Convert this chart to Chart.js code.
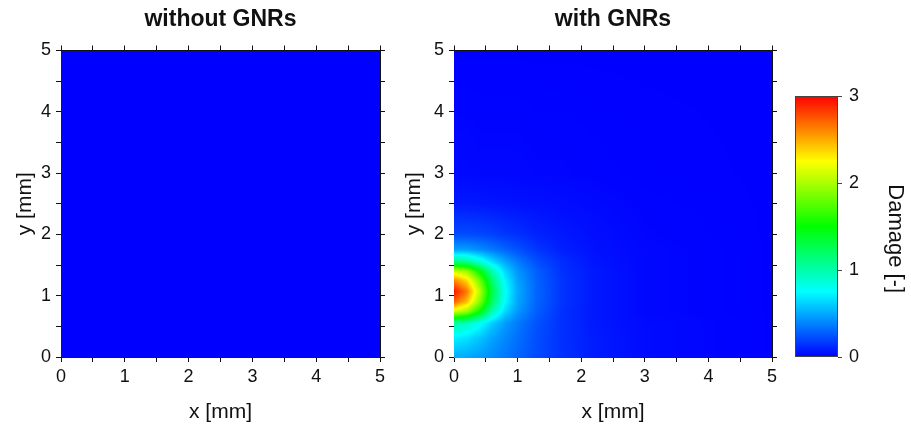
<!DOCTYPE html>
<html>
<head>
<meta charset="utf-8">
<script src="https://cdn.jsdelivr.net/npm/chart.js@4.4.1/dist/chart.umd.min.js"></script>
<style>
  html, body { margin: 0; padding: 0; background: #fff; }
  #wrap { position: relative; width: 911px; height: 426px; overflow: hidden; }
  .panel { position: absolute; top: 0; height: 426px; }
</style>
</head>
<body>
<div id="wrap">
  <div class="panel" style="left:0;width:441px"><canvas id="leftChart"></canvas></div>
  <div class="panel" style="left:392px;width:442px"><canvas id="rightChart"></canvas></div>
  <div class="panel" style="left:780px;width:131px"><canvas id="barChart"></canvas></div>
</div>
<script>
// axis ticks (mm) and colour bar ticks
const axisTicks = [0, 1, 2, 3, 4, 5];
const barTicks = [0, 1, 2, 3];

// colour map of the damage scale
const colorStops = [0, 0.75, 1.5, 2.25, 3];
const stopColors = [[0, 0, 255], [0, 255, 255], [0, 255, 0], [255, 255, 0], [255, 0, 0]];

// without GNRs: damage stays at zero everywhere
const gridX0 = [0, 5];
const gridY0 = [0, 5];
const damageWithoutGNRs = [
  [0, 0],
  [0, 0],
];

// with GNRs: damage, one row per gridY value
const gridX = [0, 0.2, 0.4, 0.6, 0.8, 1.0, 1.3, 1.7, 2.2, 3.0, 5.0];
const gridY = [0, 0.3, 0.55, 0.75, 0.9, 1.07, 1.25, 1.4, 1.55, 1.75, 2.0, 2.5, 3.0, 5.0];
const damageWithGNRs = [
  [0.52, 0.50, 0.46, 0.41, 0.36, 0.30, 0.22, 0.14, 0.08, 0.03, 0],
  [0.70, 0.66, 0.58, 0.48, 0.40, 0.33, 0.23, 0.14, 0.08, 0.03, 0],
  [1.00, 0.93, 0.78, 0.60, 0.46, 0.36, 0.24, 0.14, 0.07, 0.03, 0],
  [2.15, 1.98, 1.55, 0.99, 0.65, 0.45, 0.28, 0.14, 0.07, 0.02, 0],
  [2.72, 2.44, 1.91, 1.22, 0.75, 0.49, 0.29, 0.15, 0.07, 0.02, 0],
  [2.95, 2.65, 2.05, 1.30, 0.78, 0.50, 0.30, 0.15, 0.07, 0.02, 0],
  [2.60, 2.36, 1.85, 1.18, 0.73, 0.48, 0.29, 0.15, 0.07, 0.02, 0],
  [2.10, 1.95, 1.50, 0.98, 0.64, 0.44, 0.28, 0.14, 0.07, 0.02, 0],
  [1.15, 1.08, 0.88, 0.66, 0.50, 0.37, 0.23, 0.13, 0.06, 0.02, 0],
  [0.48, 0.47, 0.42, 0.36, 0.30, 0.24, 0.16, 0.09, 0.05, 0.02, 0],
  [0.22, 0.22, 0.21, 0.19, 0.16, 0.14, 0.10, 0.07, 0.04, 0.015, 0],
  [0.07, 0.07, 0.065, 0.06, 0.055, 0.05, 0.045, 0.035, 0.025, 0.01, 0],
  [0.025, 0.025, 0.02, 0.02, 0.02, 0.02, 0.015, 0.015, 0.01, 0.005, 0],
  [0, 0, 0, 0, 0, 0, 0, 0, 0, 0, 0],
];

const FONT = "'Liberation Sans', Arial, sans-serif";
const INK = "#111";

function colorFor(v) {
  const t = Math.max(colorStops[0], Math.min(colorStops[colorStops.length - 1], v));
  let k = 0;
  while (k < colorStops.length - 2 && t > colorStops[k + 1]) k++;
  const f = (t - colorStops[k]) / (colorStops[k + 1] - colorStops[k]);
  const a = stopColors[k], b = stopColors[k + 1];
  return [0, 1, 2].map((c) => Math.round(a[c] + (b[c] - a[c]) * f));
}

function findCell(arr, v) {
  let k = 0;
  while (k < arr.length - 2 && v > arr[k + 1]) k++;
  return k;
}

function sampleGrid(xs, ys, z, x, y) {
  const i = findCell(xs, x);
  const j = findCell(ys, y);
  const tx = Math.max(0, Math.min(1, (x - xs[i]) / (xs[i + 1] - xs[i])));
  const ty = Math.max(0, Math.min(1, (y - ys[j]) / (ys[j + 1] - ys[j])));
  const lo = z[j][i] * (1 - tx) + z[j][i + 1] * tx;
  const hi = z[j + 1][i] * (1 - tx) + z[j + 1][i + 1] * tx;
  return lo * (1 - ty) + hi * ty;
}

// paints the damage field into the chart area, pixel by pixel through the scales
const makeHeatmap = (xs, ys, z) => ({
  id: "heatmap",
  beforeDatasetsDraw(chart) {
    const { ctx, chartArea: area, scales } = chart;
    const w = Math.round(area.right - area.left);
    const h = Math.round(area.bottom - area.top);
    const off = document.createElement("canvas");
    off.width = w;
    off.height = h;
    const octx = off.getContext("2d");
    const img = octx.createImageData(w, h);
    for (let j = 0; j < h; j++) {
      const yv = scales.y.getValueForPixel(area.top + j + 0.5);
      for (let i = 0; i < w; i++) {
        const xv = scales.x.getValueForPixel(area.left + i + 0.5);
        const c = colorFor(sampleGrid(xs, ys, z, xv, yv));
        const p = (j * w + i) * 4;
        img.data[p] = c[0];
        img.data[p + 1] = c[1];
        img.data[p + 2] = c[2];
        img.data[p + 3] = 255;
      }
    }
    octx.putImageData(img, 0, 0);
    ctx.drawImage(off, area.left, area.top);
  },
});

const colorBarPlugin = {
  id: "colorBar",
  beforeDatasetsDraw(chart) {
    const { ctx, chartArea: area, scales } = chart;
    for (let py = Math.floor(area.top); py < area.bottom; py++) {
      const c = colorFor(scales.y.getValueForPixel(py + 0.5));
      ctx.fillStyle = `rgb(${c[0]},${c[1]},${c[2]})`;
      ctx.fillRect(area.left, py, area.right - area.left, 1);
    }
    ctx.strokeStyle = "#444";
    ctx.lineWidth = 1;
    ctx.strokeRect(area.left + 0.5, area.top + 0.5, area.right - area.left - 1, area.bottom - area.top - 1);
  },
};

const tickGrid = {
  drawOnChartArea: false,
  drawTicks: true,
  tickLength: 5,
  tickColor: INK,
  tickWidth: 1,
};

function panelScales(leftWidth, rightWidth, yTitlePad) {
  const majorOnly = (v) => (axisTicks.includes(v) ? v : "");
  return {
    x: {
      type: "linear",
      position: "bottom",
      min: 0,
      max: 5,
      grid: tickGrid,
      border: { color: INK, width: 1 },
      ticks: { stepSize: 0.5, autoSkip: false, maxRotation: 0, padding: 4, color: INK, font: { family: FONT, size: 18 }, callback: majorOnly },
      title: { display: true, text: "x [mm]", color: INK, font: { family: FONT, size: 21 }, padding: { top: 0, bottom: 1.4 } },
      afterFit: (s) => { s.height = 69; },
    },
    x2: {
      type: "linear",
      position: "top",
      min: 0,
      max: 5,
      grid: tickGrid,
      border: { color: INK, width: 1 },
      ticks: { stepSize: 0.5, autoSkip: false, display: false },
      afterFit: (s) => { s.height = 8; },
    },
    y: {
      type: "linear",
      position: "left",
      min: 0,
      max: 5,
      grid: tickGrid,
      border: { color: INK, width: 1 },
      ticks: { stepSize: 0.5, autoSkip: false, padding: 5, color: INK, font: { family: FONT, size: 18 }, callback: majorOnly },
      title: { display: true, text: "y [mm]", color: INK, font: { family: FONT, size: 21 }, padding: { top: yTitlePad, bottom: 0 } },
      afterFit: (s) => { s.width = leftWidth; },
    },
    y2: {
      type: "linear",
      position: "right",
      min: 0,
      max: 5,
      grid: tickGrid,
      border: { color: INK, width: 1 },
      ticks: { stepSize: 0.5, autoSkip: false, display: false },
      afterFit: (s) => { s.width = rightWidth; },
    },
  };
}

function panelOptions(title, leftWidth, rightWidth, yTitlePad) {
  return {
    responsive: true,
    maintainAspectRatio: false,
    animation: false,
    events: [],
    layout: { padding: 0 },
    plugins: {
      legend: { display: false },
      tooltip: { enabled: false },
      title: {
        display: true,
        text: title,
        color: INK,
        font: { family: FONT, size: 23, weight: "bold" },
        padding: { top: 6.2, bottom: 8.7 },
      },
    },
    scales: panelScales(leftWidth, rightWidth, yTitlePad),
  };
}

const gridPoints = (xs, ys) => ys.flatMap((y) => xs.map((x) => ({ x, y })));

new Chart(document.getElementById("leftChart"), {
  type: "scatter",
  data: { datasets: [{ data: gridPoints(gridX0, gridY0), pointRadius: 0 }] },
  options: panelOptions("without GNRs", 61, 61, 12.4),
  plugins: [makeHeatmap(gridX0, gridY0, damageWithoutGNRs)],
});

new Chart(document.getElementById("rightChart"), {
  type: "scatter",
  data: { datasets: [{ data: gridPoints(gridX, gridY), pointRadius: 0 }] },
  options: panelOptions("with GNRs", 62, 62, 9.4),
  plugins: [makeHeatmap(gridX, gridY, damageWithGNRs)],
});

new Chart(document.getElementById("barChart"), {
  type: "scatter",
  data: { datasets: [{ data: colorStops.map((v) => ({ x: 0.5, y: v })), pointRadius: 0 }] },
  options: {
    responsive: true,
    maintainAspectRatio: false,
    animation: false,
    events: [],
    layout: { padding: { left: 15, top: 96, bottom: 69, right: 0 } },
    plugins: { legend: { display: false }, tooltip: { enabled: false } },
    scales: {
      x: { type: "linear", min: 0, max: 1, display: false },
      y: {
        type: "linear",
        position: "right",
        min: barTicks[0],
        max: barTicks[barTicks.length - 1],
        grid: { ...tickGrid, tickLength: 4, tickColor: "#444" },
        border: { display: false },
        ticks: { stepSize: 1, padding: 7, color: INK, font: { family: FONT, size: 18 } },
        // leading spaces nudge the label down to where the original sits
        title: { display: true, text: "    Damage [-]", color: INK, font: { family: FONT, size: 22 }, padding: { top: 2.8, bottom: 0 } },
        afterFit: (s) => { s.width = 73; },
      },
    },
  },
  plugins: [colorBarPlugin],
});
</script>
</body>
</html>
